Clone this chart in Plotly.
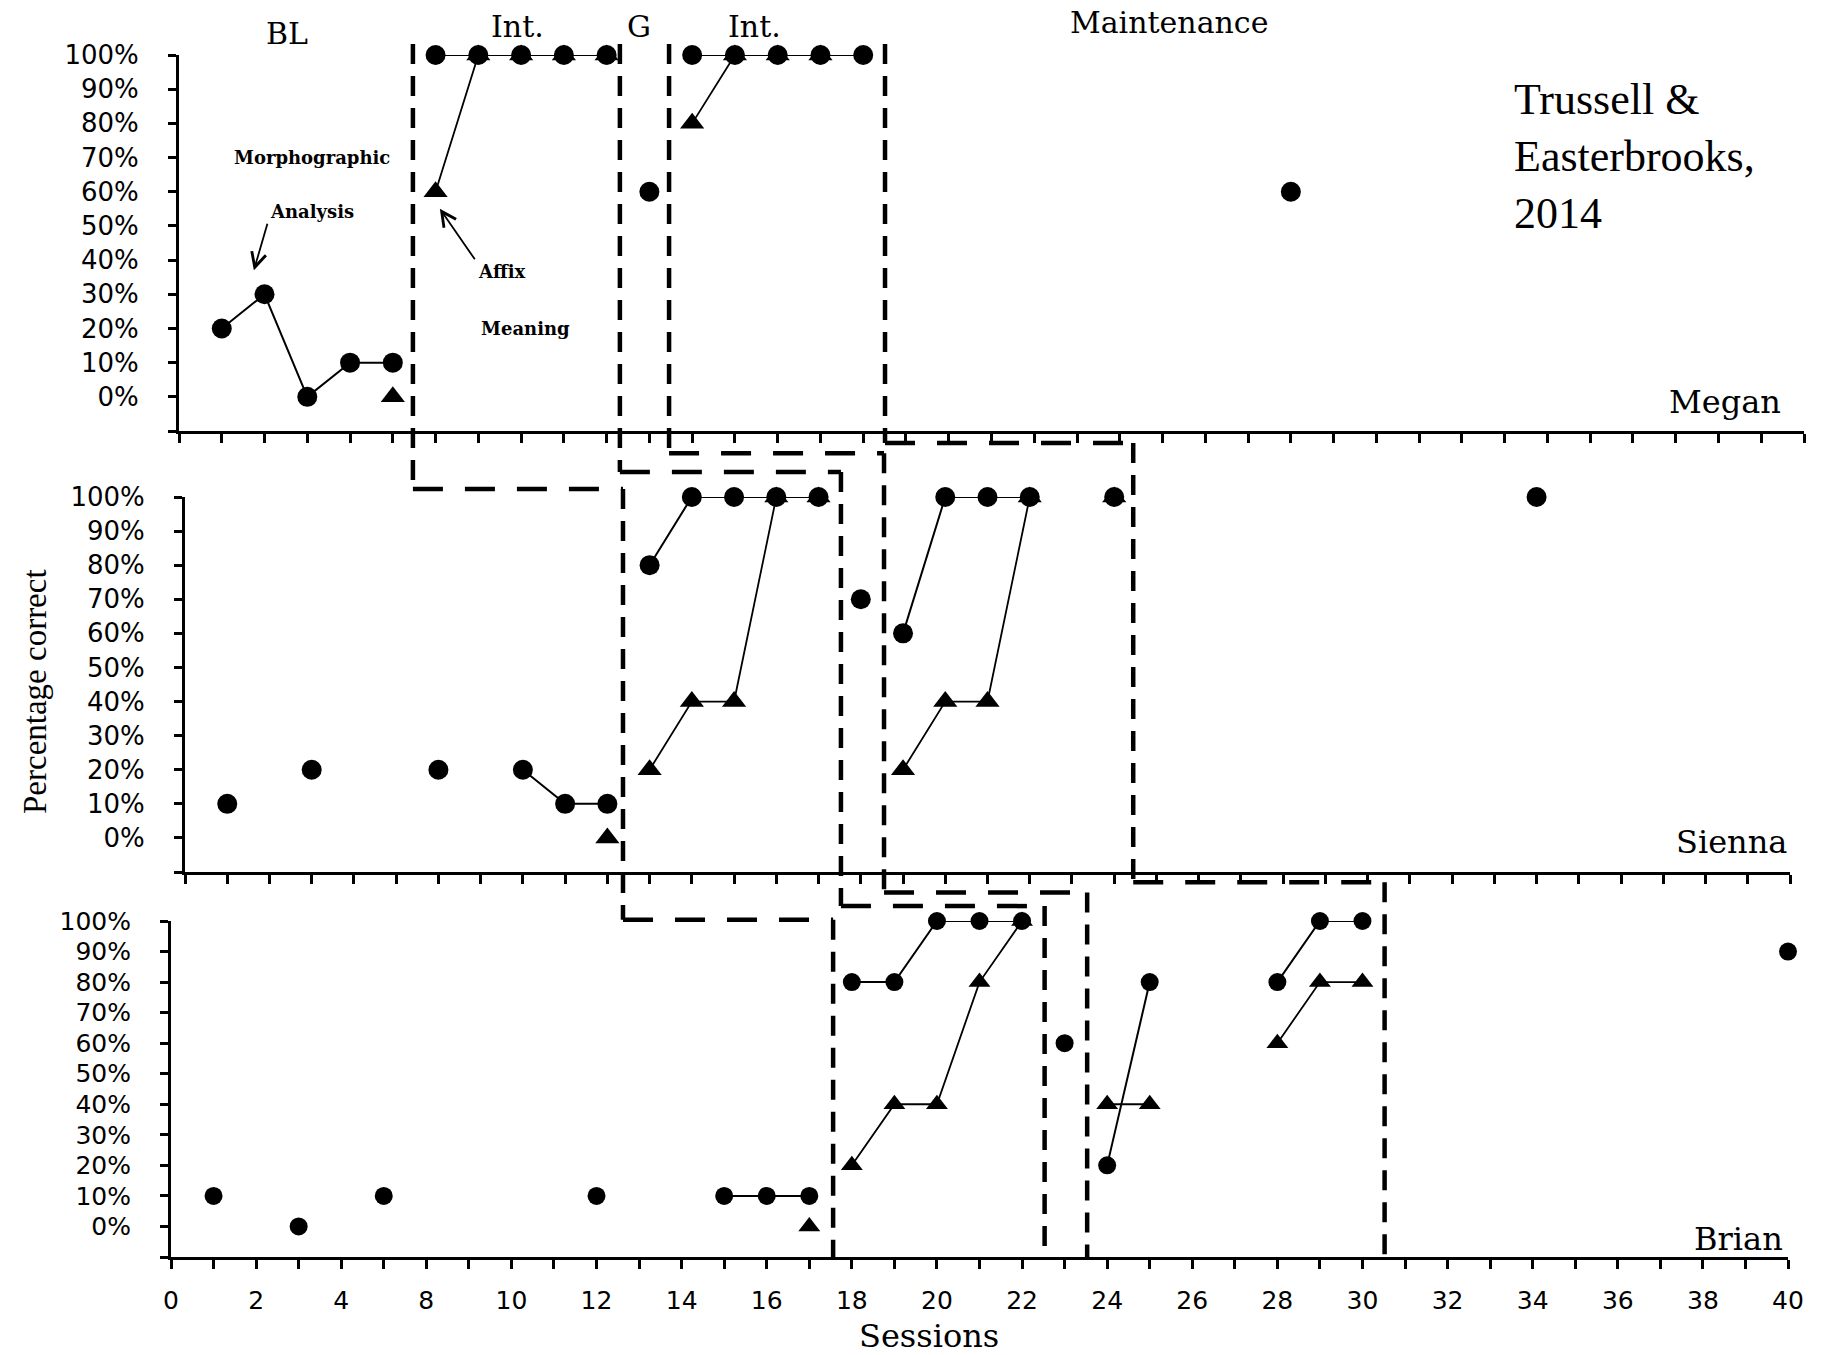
import plotly.graph_objects as go

# ---------------- data (x = tick position on the session axis) ----------------
x_tick_labels = ["0", "2", "4", "8", "10", "12", "14", "16", "18", "20",
                 "22", "24", "26", "28", "30", "32", "34", "36", "38", "40"]
y_tick_vals = [-0.1, 0.0, 0.1, 0.2, 0.3, 0.4, 0.5, 0.6, 0.7, 0.8, 0.9, 1.0]
y_tick_text = ["", "0%", "10%", "20%", "30%", "40%", "50%", "60%", "70%", "80%", "90%", "100%"]

megan_circle_x = [1, 2, 3, 4, 5, None, 6, 7, 8, 9, 10, None, 11, None, 12, 13, 14, 15, 16, None, 26]
megan_circle_y = [0.2, 0.3, 0.0, 0.1, 0.1, None, 1.0, 1.0, 1.0, 1.0, 1.0, None, 0.6, None,
                  1.0, 1.0, 1.0, 1.0, 1.0, None, 0.6]
megan_tri_x = [5, None, 6, 7, 8, 9, 10, None, 12, 13, 14, 15]
megan_tri_y = [0.0, None, 0.6, 1.0, 1.0, 1.0, 1.0, None, 0.8, 1.0, 1.0, 1.0]

sienna_circle_x = [1, None, 3, None, 6, None, 8, 9, 10, None, 11, 12, 13, 14, 15, None, 16, None,
                   17, 18, 19, 20, None, 22, None, 32]
sienna_circle_y = [0.1, None, 0.2, None, 0.2, None, 0.2, 0.1, 0.1, None, 0.8, 1.0, 1.0, 1.0, 1.0, None,
                   0.7, None, 0.6, 1.0, 1.0, 1.0, None, 1.0, None, 1.0]
sienna_tri_x = [10, None, 11, 12, 13, 14, 15, None, 17, 18, 19, 20, None, 22]
sienna_tri_y = [0.0, None, 0.2, 0.4, 0.4, 1.0, 1.0, None, 0.2, 0.4, 0.4, 1.0, None, 1.0]

brian_circle_x = [1, None, 3, None, 5, None, 10, None, 13, 14, 15, None, 16, 17, 18, 19, 20, None,
                  21, None, 22, 23, None, 26, 27, 28, None, 38]
brian_circle_y = [0.1, None, 0.0, None, 0.1, None, 0.1, None, 0.1, 0.1, 0.1, None,
                  0.8, 0.8, 1.0, 1.0, 1.0, None, 0.6, None, 0.2, 0.8, None, 0.8, 1.0, 1.0, None, 0.9]
brian_tri_x = [15, None, 16, 17, 18, 19, 20, None, 22, 23, None, 26, 27, 28]
brian_tri_y = [0.0, None, 0.2, 0.4, 0.4, 0.8, 1.0, None, 0.4, 0.4, None, 0.6, 0.8, 0.8]

# phase-change positions (in each panel's session-axis units)
phase_megan = [5.47, 10.31, 11.46, 16.51]
phase_sienna = [10.37, 15.53, 16.55, 22.45]
phase_brian = [15.56, 20.53, 21.53, 28.52]
# where the staircase connectors run (in y units of the panel above the gap)
conn_megan = [-0.27, -0.22, -0.165, -0.135]
conn_sienna = [-0.24, -0.20, -0.16, -0.13]

# ---------------- layout constants ----------------
W, H = 1833, 1355
X_RANGE = [0, 38]
Y_RANGE = [-0.1, 1.0]
X_DOM = {"m": [179 / W, 1804 / W], "s": [185 / W, 1790 / W], "b": [171 / W, 1788 / W]}
Y_DOM = {"m": [1 - 431 / H, 1 - 55 / H], "s": [1 - 872 / H, 1 - 497 / H], "b": [1 - 1257 / H, 1 - 921 / H]}
AX = {"m": ("x", "y"), "s": ("x2", "y2"), "b": ("x3", "y3")}


def xp(p, v):
    d = X_DOM[p]
    return d[0] + (v - X_RANGE[0]) / (X_RANGE[1] - X_RANGE[0]) * (d[1] - d[0])


def yp(p, v):
    d = Y_DOM[p]
    return d[0] + (v - Y_RANGE[0]) / (Y_RANGE[1] - Y_RANGE[0]) * (d[1] - d[0])


fig = go.Figure()

panels = [
    ("m", megan_circle_x, megan_circle_y, megan_tri_x, megan_tri_y, 20),
    ("s", sienna_circle_x, sienna_circle_y, sienna_tri_x, sienna_tri_y, 20),
    ("b", brian_circle_x, brian_circle_y, brian_tri_x, brian_tri_y, 18),
]
for key, cx, cy, tx, ty, msize in panels:
    xa, ya = AX[key]
    fig.add_trace(go.Scatter(
        x=tx, y=ty, xaxis=xa, yaxis=ya, mode="lines+markers", connectgaps=False,
        line=dict(color="black", width=1.8),
        marker=dict(symbol="triangle-up", size=msize + 1, color="black"),
        cliponaxis=False, hoverinfo="skip"))
    fig.add_trace(go.Scatter(
        x=cx, y=cy, xaxis=xa, yaxis=ya, mode="lines+markers", connectgaps=False,
        line=dict(color="black", width=2),
        marker=dict(symbol="circle", size=msize, color="black"),
        cliponaxis=False, hoverinfo="skip"))


def xaxis_cfg(key, labels):
    cfg = dict(domain=X_DOM[key], range=X_RANGE, showgrid=False, zeroline=False,
               showline=True, linecolor="black", linewidth=3, automargin=False,
               ticks="outside", ticklen=9, tickwidth=3, tickcolor="black",
               tickmode="array", tickvals=list(range(39)), fixedrange=True)
    if labels:
        txt = []
        for i in range(39):
            txt.append(x_tick_labels[i // 2] if i % 2 == 0 else "")
        cfg.update(ticktext=txt, showticklabels=True,
                   tickfont=dict(family="DejaVu Sans", size=25, color="black"),
                   ticklabelstandoff=10)
    else:
        cfg.update(showticklabels=False)
    return cfg


def yaxis_cfg(key, size):
    return dict(domain=Y_DOM[key], range=Y_RANGE, showgrid=False, zeroline=False,
                showline=True, linecolor="black", linewidth=3, automargin=False,
                ticks="outside", ticklen=8, tickwidth=2.5, tickcolor="black",
                tickmode="array", tickvals=y_tick_vals, ticktext=y_tick_text,
                tickfont=dict(family="DejaVu Sans", size=size, color="black"),
                ticklabelstandoff=24, fixedrange=True)


fig.update_layout(
    width=W, height=H, margin=dict(l=0, r=0, t=0, b=0, pad=0, autoexpand=False),
    paper_bgcolor="white", plot_bgcolor="white", showlegend=False,
    xaxis=dict(anchor="y", **xaxis_cfg("m", False)),
    yaxis=dict(anchor="x", **yaxis_cfg("m", 26)),
    xaxis2=dict(anchor="y2", **xaxis_cfg("s", False)),
    yaxis2=dict(anchor="x2", **yaxis_cfg("s", 26)),
    xaxis3=dict(anchor="y3", **xaxis_cfg("b", True)),
    yaxis3=dict(anchor="x3", **yaxis_cfg("b", 25)),
)

# ---------------- phase-change staircases ----------------
shapes = []
VDASH = "20px,12px"
HDASH = "30px,22px"


def seg(x0, y0, x1, y1, dash):
    shapes.append(dict(type="line", xref="paper", yref="paper", x0=x0, y0=y0, x1=x1, y1=y1,
                       line=dict(color="black", width=4.5, dash=dash), layer="above"))


for i in range(4):
    xm, xs, xb = xp("m", phase_megan[i]), xp("s", phase_sienna[i]), xp("b", phase_brian[i])
    ytop = yp("m", 1.032)
    yms = yp("m", conn_megan[i])
    ysb = yp("s", conn_sienna[i])
    ybot = yp("b", -0.1)
    seg(xm, ytop, xm, yms, VDASH)
    seg(xm, yms, xs, yms, HDASH)
    seg(xs, yms, xs, ysb, VDASH)
    seg(xs, ysb, xb, ysb, HDASH)
    seg(xb, ysb, xb, ybot, VDASH)
fig.update_layout(shapes=shapes)

# ---------------- text ----------------
serif = "DejaVu Serif"
ann = []


def txt(text, x, y, size, family=serif, xanchor="center", yanchor="middle", **kw):
    ann.append(dict(text=text, x=x, y=y, xref="paper", yref="paper", showarrow=False,
                    xanchor=xanchor, yanchor=yanchor,
                    font=dict(family=family, size=size, color="black"), **kw))


txt("BL", 287 / W, 1 - 34 / H, 30)
txt("Int.", 517 / W, 1 - 27 / H, 30)
txt("G", 639 / W, 1 - 27 / H, 30)
txt("Int.", 754 / W, 1 - 27 / H, 30)
txt("Maintenance", 1169 / W, 1 - 22 / H, 30)
txt("Trussell &amp;<br>Easterbrooks,<br>2014", 1512 / W, 1 - 157 / H, 44,
    family="Liberation Serif", xanchor="left", align="left")
txt("Megan", 1783 / W, 1 - 402 / H, 32, xanchor="right")
txt("Sienna", 1789 / W, 1 - 842 / H, 32, xanchor="right")
txt("Brian", 1785 / W, 1 - 1239 / H, 32, xanchor="right")
txt("Sessions", 929 / W, 1 - 1336 / H, 32)
txt("Percentage correct", 35 / W, 1 - 692 / H, 33, family="Liberation Serif", textangle=-90)
txt("<b>Morphographic</b>", 312 / W, 1 - 158 / H, 18)
txt("<b>Analysis</b>", 312 / W, 1 - 211 / H, 18)
txt("<b>Affix</b>", 502 / W, 1 - 272 / H, 18)
txt("<b>Meaning</b>", 525 / W, 1 - 328 / H, 18)

# arrows pointing at the data (Megan panel)
ann.append(dict(text="", x=1.75, y=0.37, xref="x", yref="y", ax=14, ay=-48,
                showarrow=True, arrowhead=5, arrowsize=1.6, arrowwidth=1.8, arrowcolor="black"))
ann.append(dict(text="", x=6.1, y=0.55, xref="x", yref="y", ax=36, ay=52,
                showarrow=True, arrowhead=5, arrowsize=1.6, arrowwidth=1.8, arrowcolor="black"))
fig.update_layout(annotations=ann)

fig.write_html("out.html")
